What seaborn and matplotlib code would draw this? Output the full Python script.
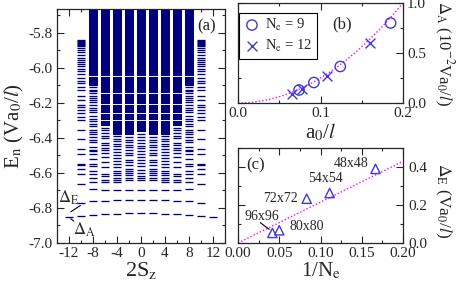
import pandas as pd
import matplotlib
matplotlib.use("Agg")
import matplotlib.pyplot as plt
import seaborn as sns

# ---------------- panel (a): energy levels vs 2S_z (spectrum symmetric in +/-)
# quasi-continuum at the top, shared by columns |2Sz| <= 8 down to a column floor
dense_levels = [-5.665, -5.673, -5.682, -5.690, -5.699, -5.707, -5.716, -5.724, -5.733,
                -5.741, -5.750, -5.758, -5.767, -5.775, -5.784, -5.792, -5.801, -5.809,
                -5.818, -5.826, -5.835, -5.843, -5.852, -5.860, -5.869, -5.877, -5.886,
                -5.894, -5.903, -5.911, -5.920, -5.928, -5.937, -5.945, -5.954, -5.962,
                -5.971, -5.979, -5.988, -5.996, -6.005, -6.013, -6.022, -6.030, -6.039,
                -6.056, -6.064, -6.073, -6.081, -6.090, -6.098, -6.107, -6.115, -6.124,
                -6.132, -6.141, -6.158, -6.166, -6.175, -6.183, -6.192, -6.200, -6.217,
                -6.226, -6.234, -6.243, -6.251, -6.268, -6.277, -6.285, -6.294, -6.311,
                -6.319, -6.328, -6.336, -6.345, -6.353, -6.362, -6.370, -6.378]
dense_floor = {0: -6.365, 2: -6.385, 4: -6.380, 6: -6.335, 8: -6.105}

levels_0 = [-6.380, -6.395, -6.410, -6.430, -6.445, -6.460, -6.475, -6.490, -6.510, -6.525,
            -6.545, -6.560, -6.585, -6.603, -6.615, -6.628, -6.642, -6.695, -6.755, -6.830]
levels_2 = [-6.396, -6.411, -6.425, -6.439, -6.453, -6.472, -6.487, -6.500, -6.529, -6.538,
            -6.557, -6.576, -6.591, -6.601, -6.612, -6.627, -6.642, -6.695, -6.756, -6.831]
levels_4 = [-6.392, -6.405, -6.419, -6.434, -6.447, -6.462, -6.481, -6.500, -6.513, -6.533,
            -6.547, -6.567, -6.589, -6.598, -6.610, -6.627, -6.642, -6.652, -6.695, -6.756, -6.834]
levels_6 = [-6.343, -6.358, -6.371, -6.387, -6.400, -6.428, -6.439, -6.456, -6.472, -6.487,
            -6.510, -6.538, -6.567, -6.608, -6.620, -6.638, -6.652, -6.697, -6.760, -6.837]
levels_8 = [-6.110, -6.126, -6.134, -6.145, -6.159, -6.172, -6.186, -6.197, -6.212, -6.228,
            -6.240, -6.255, -6.273, -6.292, -6.305, -6.320, -6.334, -6.358, -6.368, -6.380,
            -6.395, -6.411, -6.425, -6.453, -6.468, -6.476, -6.494, -6.519, -6.547, -6.563,
            -6.591, -6.608, -6.627, -6.652, -6.693, -6.763, -6.841]
levels_10 = [-5.843, -5.848, -5.853, -5.858, -5.864, -5.870, -5.876, -5.885, -5.900, -5.913,
             -5.926, -5.942, -5.957, -5.970, -5.979, -5.989, -6.008, -6.021, -6.036, -6.059,
             -6.074, -6.090, -6.108, -6.127, -6.159, -6.184, -6.210, -6.226, -6.244, -6.260,
             -6.279, -6.297, -6.358, -6.405, -6.462, -6.490, -6.547, -6.557, -6.576, -6.608,
             -6.661, -6.769, -6.847]
levels_12 = [-6.854]
column_levels = {0: levels_0, 2: levels_2, 4: levels_4, 6: levels_6, 8: levels_8,
                 10: levels_10, 12: levels_12}

# ---------------- panel (b): Delta_A vs a0/l
a0_ne9 = [0.074, 0.092, 0.124, 0.185]
dA_ne9 = [0.13, 0.205, 0.365, 0.80]
a0_ne12 = [0.065, 0.078, 0.1075, 0.160]
dA_ne12 = [0.095, 0.145, 0.27, 0.60]
fit_b_x = [0.00, 0.01, 0.02, 0.03, 0.04, 0.05, 0.06, 0.07, 0.08, 0.09, 0.10,
           0.11, 0.12, 0.13, 0.14, 0.15, 0.16, 0.17, 0.18, 0.19, 0.20]
fit_b_y = [0.0, 0.0025, 0.01, 0.0225, 0.04, 0.0625, 0.09, 0.1225, 0.16, 0.2025, 0.25,
           0.3025, 0.36, 0.4225, 0.49, 0.5625, 0.64, 0.7225, 0.81, 0.9025, 1.0]

# ---------------- panel (c): Delta_E vs 1/Ne
inv_ne = [0.1667, 0.1111, 0.0833, 0.0500, 0.0417]
dE = [0.39, 0.263, 0.233, 0.067, 0.053]
lattice = ["48x48", "54x54", "72x72", "80x80", "96x96"]
fit_c_x = [0.0, 0.2]
fit_c_y = [0.0, 0.43]

sns.set_style("ticks")
plt.rcParams["font.family"] = ["Liberation Serif", "DejaVu Serif"]
plt.rcParams["mathtext.fontset"] = "stix"
plt.rcParams["axes.unicode_minus"] = False
plt.rcParams["axes.linewidth"] = 0.9

navy = "#00007f"
blue = "#3c3cd0"
magenta = "#ff00ff"

fig = plt.figure(figsize=(4.57, 2.89), dpi=100)
ax_a = fig.add_axes([57 / 457, 46 / 289, 168 / 457, 234 / 289])
ax_b = fig.add_axes([238 / 457, 186 / 289, 165 / 457, 100 / 289])
ax_c = fig.add_axes([238 / 457, 46 / 289, 165 / 457, 95 / 289])


def style(ax):
    ax.tick_params(which="both", direction="in", top=True, right=True, width=0.8,
                   labelsize=11, pad=3)
    ax.tick_params(which="major", length=5)
    ax.tick_params(which="minor", length=2.5)


# ---- (a)
rows = []
for sz, lv in column_levels.items():
    for s in ({sz, -sz}):
        for e in lv:
            rows.append((s, e, "sparse"))
        if sz in dense_floor:
            for e in dense_levels:
                if e >= dense_floor[sz]:
                    rows.append((s, e, "dense"))
spec = pd.DataFrame(rows, columns=["sz", "E", "kind"])
sp = spec[spec["kind"] == "sparse"]
dn = spec[spec["kind"] == "dense"]
ax_a.hlines(dn["E"], dn["sz"] - 0.75, dn["sz"] + 0.75, color=navy, lw=1.5)
ax_a.hlines(sp["E"], sp["sz"] - 0.72, sp["sz"] + 0.72, color=navy, lw=0.95)
ax_a.set_xlim(-14, 14)
ax_a.set_ylim(-7.0, -5.665)
ax_a.set_xticks([-12, -8, -4, 0, 4, 8, 12])
ax_a.set_xticks(range(-14, 15, 2), minor=True)
ax_a.set_yticks([-7.0, -6.8, -6.6, -6.4, -6.2, -6.0, -5.8])
ax_a.set_yticks([-6.9, -6.7, -6.5, -6.3, -6.1, -5.9, -5.7], minor=True)
ax_a.yaxis.set_major_formatter(matplotlib.ticker.FormatStrFormatter("%.1f"))
style(ax_a)
ax_a.set_xlabel("2S$_\\mathrm{z}$", fontsize=16, labelpad=0)
ax_a.set_ylabel("E$_\\mathrm{n}$ (Va$_0$/$l$)", fontsize=15, labelpad=2)
ax_a.text(10.85, -5.762, "(a)", fontsize=12, ha="center", va="center")
ax_a.text(-13.9, -6.744, "$\\Delta_\\mathrm{E}$", fontsize=12, ha="left", va="center")
ax_a.text(-11.4, -6.925, "$\\Delta_\\mathrm{A}$", fontsize=12, ha="left", va="center")
ax_a.plot([-11.7, -10.1], [-6.822, -6.786], color="black", lw=0.8)
ax_a.plot([-11.7, -11.2], [-6.862, -6.875], color="black", lw=0.8)

# ---- (b)
sns.lineplot(x=fit_b_x, y=fit_b_y, ax=ax_b, color=magenta, lw=1,
             linestyle=(0, (1, 1.5)))
sns.scatterplot(x=a0_ne9, y=dA_ne9, ax=ax_b, marker="o", s=55, facecolor="none",
                edgecolor=blue, linewidth=1, label="N$_\\mathrm{e}$ = 9", zorder=3)
sns.scatterplot(x=a0_ne12, y=dA_ne12, ax=ax_b, marker="x", s=50, color=blue,
                linewidth=1, label="N$_\\mathrm{e}$ = 12", zorder=3)
ax_b.set_xlim(0, 0.2)
ax_b.set_ylim(0, 1.0)
ax_b.set_xticks([0.0, 0.1, 0.2])
ax_b.set_xticks([0.05, 0.15], minor=True)
ax_b.set_yticks([0.0, 0.5, 1.0])
ax_b.set_yticks([0.25, 0.75], minor=True)
ax_b.xaxis.set_major_formatter(matplotlib.ticker.FormatStrFormatter("%.1f"))
ax_b.yaxis.set_major_formatter(matplotlib.ticker.FormatStrFormatter("%.1f"))
style(ax_b)
ax_b.tick_params(labelleft=False, labelright=True)
ax_b.yaxis.set_label_position("right")
ax_b.set_ylabel("$\\Delta_\\mathrm{A}$ (10$^{-2}$Va$_0$/$l$)", fontsize=12, rotation=270,
                va="center")
ax_b.yaxis.set_label_coords(1.245, 0.49)
ax_b.set_xlabel("a$_0$/$l$", fontsize=15, labelpad=1)
ax_b.text(0.126, 0.79, "(b)", fontsize=12, ha="center", va="center")
leg = ax_b.legend(loc="upper left", bbox_to_anchor=(0.005, 0.905), fontsize=10.5,
                  frameon=True, fancybox=False, edgecolor="black", framealpha=1,
                  handletextpad=0.3, borderpad=0.3, labelspacing=0.35,
                  handlelength=1.2, borderaxespad=0)
leg.get_frame().set_linewidth(0.8)

# ---- (c)
sns.lineplot(x=fit_c_x, y=fit_c_y, ax=ax_c, color=magenta, lw=1,
             linestyle=(0, (1, 1.5)))
sns.scatterplot(x=inv_ne, y=dE, ax=ax_c, marker="^", s=45, facecolor="none",
                edgecolor=blue, linewidth=1, zorder=3)
ax_c.set_xlim(0, 0.2)
ax_c.set_ylim(0, 0.5)
ax_c.set_xticks([0.0, 0.05, 0.10, 0.15, 0.20])
ax_c.set_xticks([0.025, 0.075, 0.125, 0.175], minor=True)
ax_c.set_yticks([0.0, 0.2, 0.4])
ax_c.set_yticks([0.1, 0.3, 0.5], minor=True)
ax_c.xaxis.set_major_formatter(matplotlib.ticker.FormatStrFormatter("%.2f"))
ax_c.yaxis.set_major_formatter(matplotlib.ticker.FormatStrFormatter("%.1f"))
style(ax_c)
ax_c.tick_params(labelleft=False, labelright=True)
ax_c.tick_params(axis="y", pad=4)
ax_c.yaxis.set_label_position("right")
ax_c.set_ylabel("$\\Delta_\\mathrm{E}$ (Va$_0$/$l$)", fontsize=12.5, rotation=270,
                va="center")
ax_c.yaxis.set_label_coords(1.245, 0.45)
ax_c.set_xlabel("1/N$_\\mathrm{e}$", fontsize=15, labelpad=0)
ax_c.text(0.0212, 0.41, "(c)", fontsize=12, ha="center", va="center")
label_pos = {"48x48": (0.137, 0.42), "54x54": (0.1055, 0.34), "72x72": (0.0517, 0.235),
             "80x80": (0.0836, 0.086), "96x96": (0.0292, 0.138)}
for name in lattice:
    tx, ty = label_pos[name]
    ax_c.text(tx, ty, name, fontsize=10, ha="center", va="center")
ax_c.annotate("", xy=(0.0406, 0.063), xytext=(0.0243, 0.116),
              arrowprops=dict(arrowstyle="-", color="black", lw=0.8))

fig.savefig("out.png", dpi=100)
